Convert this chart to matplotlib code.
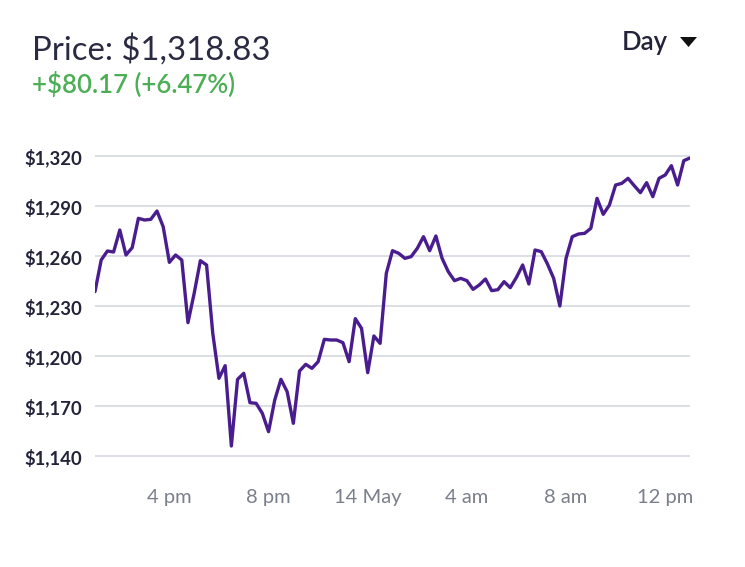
import matplotlib
matplotlib.use("Agg")
import matplotlib.pyplot as plt
from matplotlib.patches import Polygon
import pandas as pd

# 15-minute prices from 13 May 1:00 pm to 14 May 1:00 pm
start_time = "2018-05-13 13:00"
prices = [
    1238.66, 1257.6, 1263.0, 1262.4, 1275.6, 1260.6, 1265.0, 1282.6, 1281.6, 1282.0,
    1287.0, 1277.6, 1256.2, 1260.6, 1257.6, 1220.0, 1237.6, 1257.2, 1254.6, 1213.6,
    1186.6, 1194.2, 1146.0, 1186.0, 1189.6, 1172.0, 1171.6, 1165.6, 1154.6, 1173.6,
    1186.0, 1178.6, 1159.6, 1191.0, 1195.0, 1192.6, 1196.6, 1210.0, 1209.6, 1209.6,
    1208.0, 1196.6, 1222.4, 1216.6, 1190.0, 1212.0, 1207.6, 1249.6, 1263.2, 1261.6,
    1258.6, 1259.6, 1264.6, 1271.6, 1263.2, 1272.0, 1258.6, 1250.6, 1245.2, 1246.6,
    1245.2, 1240.0, 1242.6, 1246.2, 1239.2, 1239.8, 1244.6, 1241.0, 1247.2, 1254.6,
    1243.2, 1263.6, 1262.6, 1255.2, 1246.6, 1230.0, 1258.6, 1271.6, 1273.2, 1273.6,
    1276.6, 1294.6, 1285.0, 1290.6, 1302.6, 1303.6, 1306.6, 1302.2, 1298.0, 1304.0,
    1295.6, 1306.6, 1308.6, 1314.2, 1302.6, 1317.2, 1318.83,
]
y_ticks = [1140, 1170, 1200, 1230, 1260, 1290, 1320]
y_tick_labels = ["$1,140", "$1,170", "$1,200", "$1,230", "$1,260", "$1,290", "$1,320"]
x_tick_times = ["2018-05-13 16:00", "2018-05-13 20:00", "2018-05-14 00:00",
                "2018-05-14 04:00", "2018-05-14 08:00", "2018-05-14 12:00"]
x_tick_labels = ["4 pm", "8 pm", "14 May", "4 am", "8 am", "12 pm"]
title_text = "Price: $1,318.83"
change_text = "+$80.17 (+6.47%)"
range_text = "Day"

times = pd.date_range(start_time, periods=len(prices), freq="15min")

plt.rcParams["font.family"] = ["Lato", "DejaVu Sans"]

W, H = 745, 567
fig = plt.figure(figsize=(W / 100, H / 100), dpi=100)
fig.patch.set_facecolor("white")

ax_left, ax_right = 95 / W, 690 / W
ax_bottom = (H - 461) / H
ax_height = 310 / H
ax = fig.add_axes([ax_left, ax_bottom, ax_right - ax_left, ax_height])

ax.plot(times, prices, color="#4a1d8f", linewidth=2.4, solid_joinstyle="round",
        solid_capstyle="round", zorder=3)

ax.set_xlim(times[0], times[-1])
ax.set_ylim(1137, 1323)
ax.set_yticks(y_ticks)
ax.set_yticklabels(y_tick_labels)
ax.set_xticks([pd.Timestamp(t) for t in x_tick_times])
ax.set_xticklabels(x_tick_labels)

for s in ax.spines.values():
    s.set_visible(False)
ax.yaxis.grid(True, color="#d6d9e1", linewidth=1.2)
ax.xaxis.grid(False)
ax.set_axisbelow(True)
ax.tick_params(axis="both", length=0)
ax.tick_params(axis="y", pad=9, labelsize=13.3, labelcolor="#23233a")
ax.tick_params(axis="x", pad=20, labelsize=14.5, labelcolor="#7a7f8c")
for lbl in ax.get_yticklabels():
    lbl.set_fontweight("bold")

fig.text(32 / W, 1 - 60 / H, title_text, fontsize=23.7, color="#2a2a42",
         ha="left", va="baseline")
fig.text(32 / W, 1 - 93 / H, change_text, fontsize=18.5, color="#4cae55",
         fontweight="semibold", ha="left", va="baseline")
fig.text(668 / W, 1 - 50 / H, range_text, fontsize=18.5, color="#23233a",
         fontweight="semibold", ha="right", va="baseline")

# dropdown caret
caret = Polygon([(680 / W, 1 - 37 / H), (697 / W, 1 - 37 / H), (688.5 / W, 1 - 47 / H)],
                closed=True, facecolor="#111111", edgecolor="none",
                transform=fig.transFigure)
fig.patches.append(caret)

fig.savefig("out.png", dpi=100, facecolor="white")
